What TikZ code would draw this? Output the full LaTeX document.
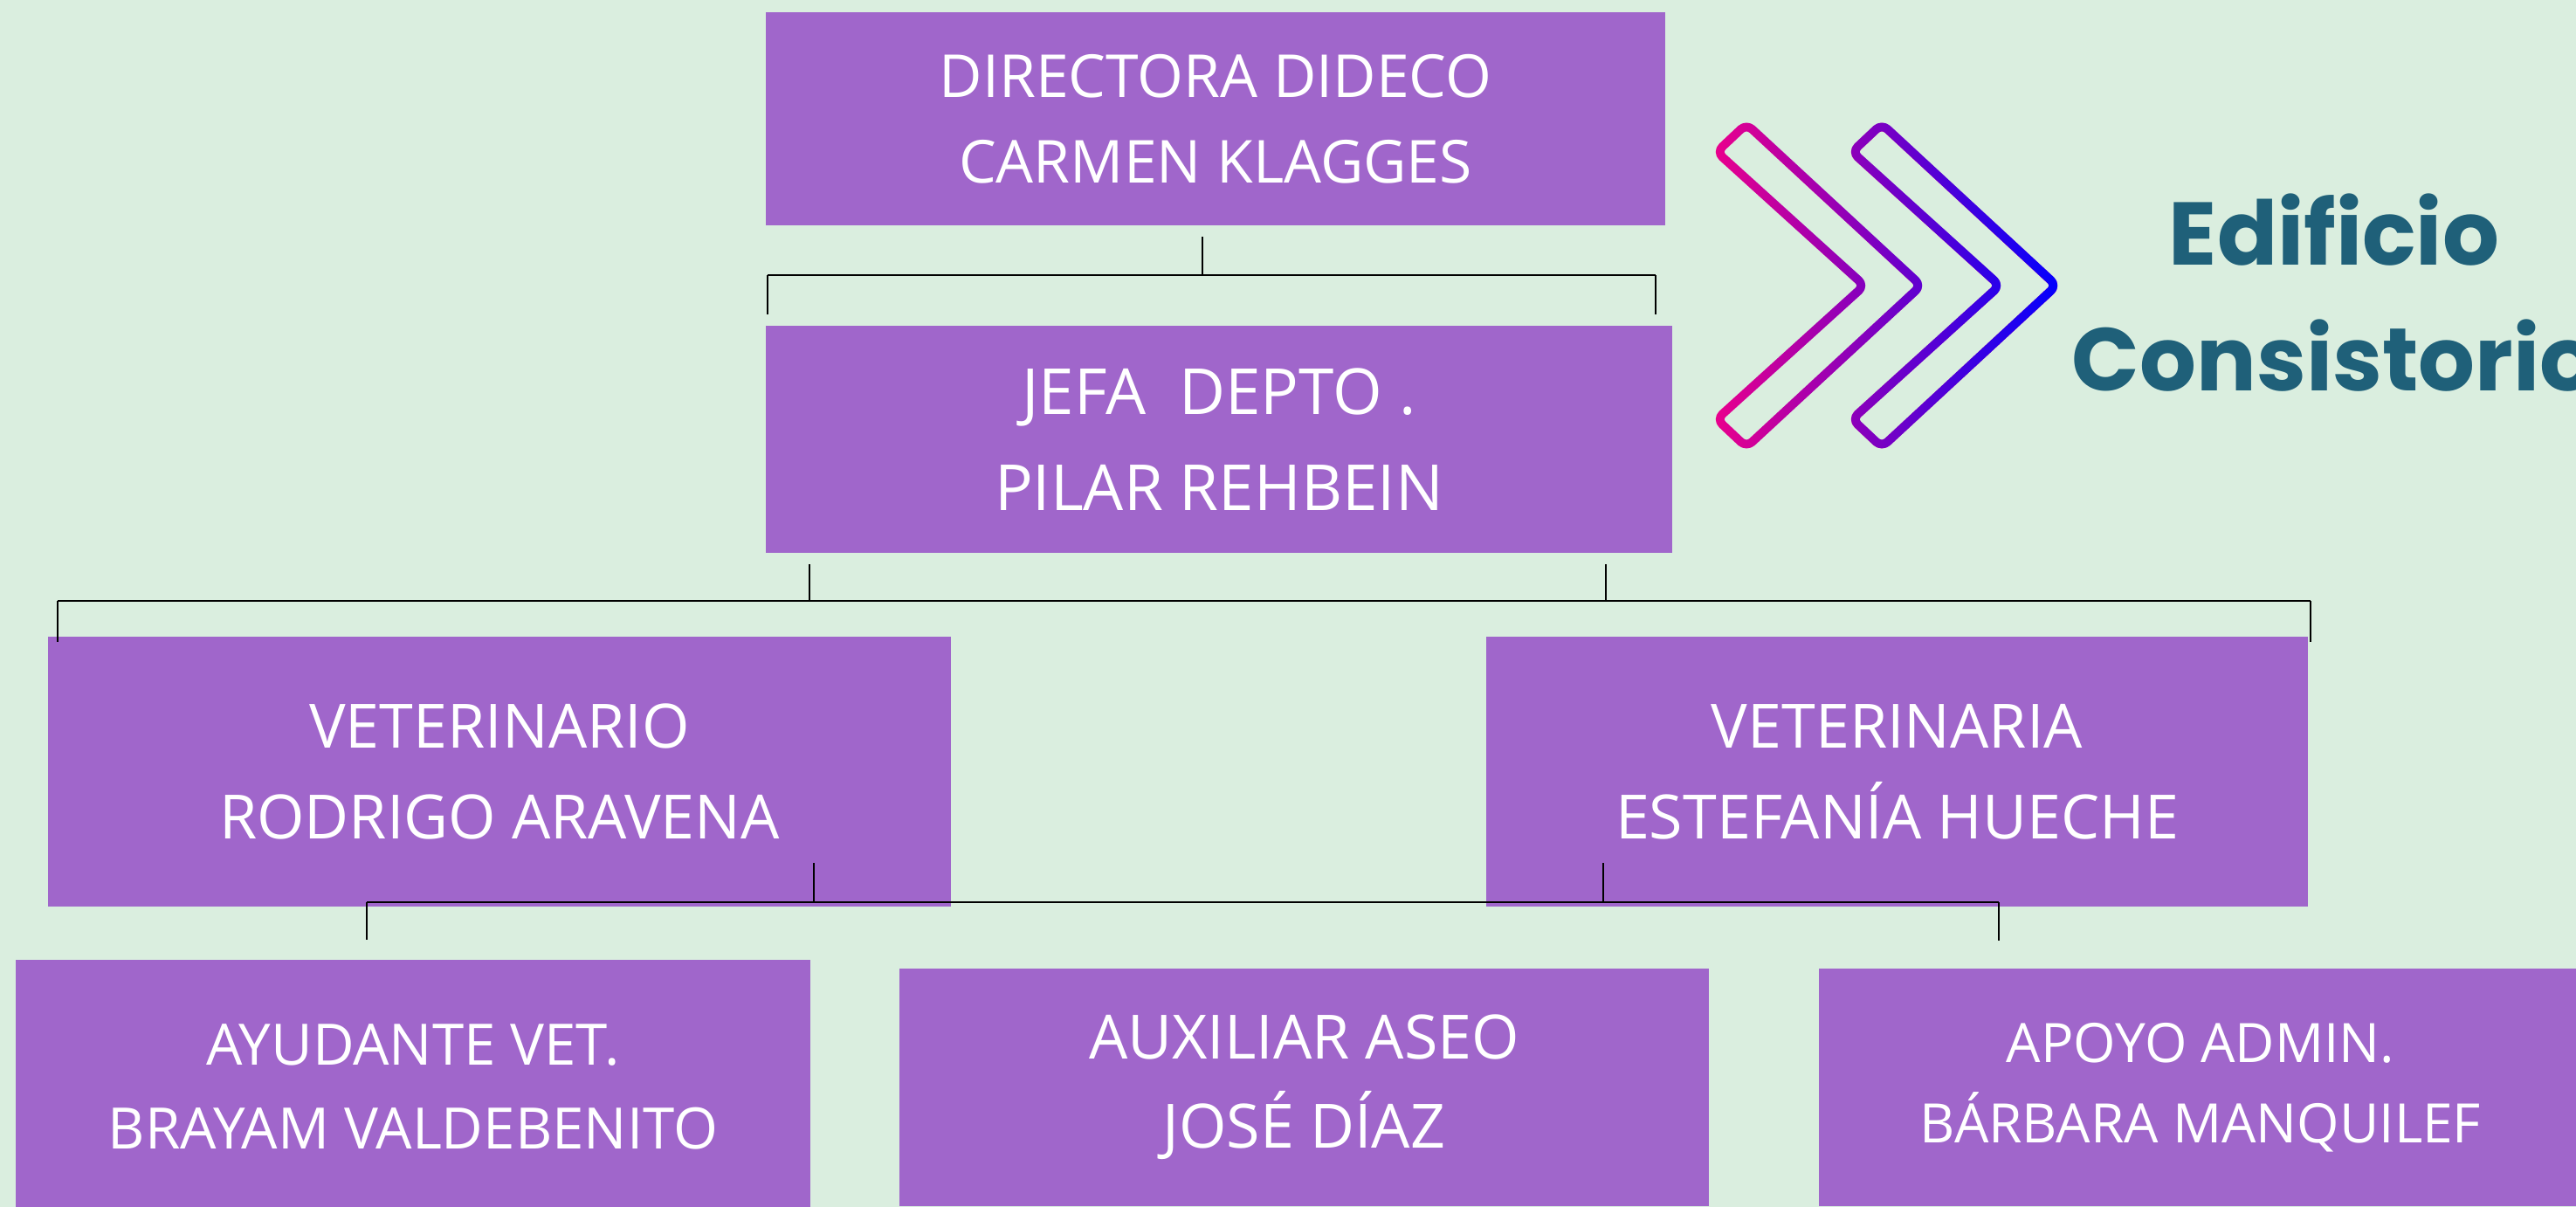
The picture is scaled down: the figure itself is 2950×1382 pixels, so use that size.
\documentclass[tikz,border=0pt]{standalone}
\usepackage{fontspec}
\setmainfont{Open Sans}
\newfontfamily\titlefont{Poppins}
\usetikzlibrary{fadings}
\definecolor{bgmint}{HTML}{DAEEDF}
\definecolor{boxpurple}{HTML}{A066CB}
\definecolor{titleteal}{HTML}{1F6079}
\begin{document}
\begin{tikzpicture}[x=0.01cm, y=-0.01cm,
    box/.style={rectangle, fill=boxpurple, text=white, inner sep=0pt, align=center, font=\fontsize{19.9}{29.5}\selectfont},
    link/.style={black, line width=0.55pt},
    bar/.style={black, line width=0.85pt},
    chevron/.style={line width=2.8pt, rounded corners=2.5pt, line join=round}
]
    % Background
    \path[use as bounding box, fill=bgmint] (0,0) rectangle (2950,1382);
    \clip (0,0) rectangle (2950,1382);

    % Top: directora and jefa
    \node[box, minimum width=10.30cm, minimum height=2.44cm, font=\fontsize{19.3}{28}\selectfont] (dir) at (1392,136) {DIRECTORA DIDECO\\CARMEN KLAGGES};
    \node[box, minimum width=10.38cm, minimum height=2.60cm, font=\fontsize{20.7}{31.2}\selectfont] (jefa) at (1396,503) {JEFA~ DEPTO .\\PILAR REHBEIN};

    % Middle: veterinarios
    \node[box, minimum width=10.34cm, minimum height=3.09cm] (vetrod) at (572,883.5) {VETERINARIO\\RODRIGO ARAVENA};
    \node[box, minimum width=9.41cm, minimum height=3.09cm] (vetest) at (2172.5,883.5) {VETERINARIA\\ESTEFANÍA HUECHE};

    % Bottom: apoyo
    \node[box, minimum width=9.10cm, minimum height=2.91cm, font=\fontsize{18.6}{27.2}\selectfont] (ayud) at (473,1244.5) {AYUDANTE VET.\\BRAYAM VALDEBENITO};
    \node[box, minimum width=9.27cm, minimum height=2.72cm, font=\fontsize{19.9}{29}\selectfont] (aux) at (1493.5,1245) {AUXILIAR ASEO\\JOSÉ DÍAZ};
    \node[box, minimum width=8.74cm, minimum height=2.72cm, font=\fontsize{17.7}{26.1}\selectfont] (apoyo) at (2520,1245) {APOYO ADMIN.\\BÁRBARA MANQUILEF};

    % Links directora -> jefa
    \coordinate (d0) at (1377,271);
    \coordinate (d1) at (1377,315);
    \coordinate (dl) at (879,315);
    \coordinate (dr) at (1896,315);
    \draw[link] (d0) -- (d1);
    \draw[bar] (dl) -- (dr);
    \draw[link] (dl) -- ++(0,45);
    \draw[link] (dr) -- ++(0,45);

    % Links jefa -> veterinarios
    \coordinate (j0) at (927,646);
    \coordinate (j1) at (1839,646);
    \coordinate (jl) at (66,688);
    \coordinate (jr) at (2646,688);
    \draw[link] (j0) -- ++(0,42);
    \draw[link] (j1) -- ++(0,42);
    \draw[bar] (jl) -- (jr);
    \draw[link] (jl) -- ++(0,47);
    \draw[link] (jr) -- ++(0,47);

    % Links veterinarios -> apoyo
    \coordinate (v0) at (932,988);
    \coordinate (v1) at (1836,988);
    \coordinate (vl) at (420,1033);
    \coordinate (vr) at (2289,1033);
    \draw[link] (v0) -- ++(0,45);
    \draw[link] (v1) -- ++(0,45);
    \draw[bar] (vl) -- (vr);
    \draw[link] (vl) -- ++(0,43);
    \draw[link] (vr) -- ++(0,44);

    % Chevrons
    \draw[chevron, magenta] (2000,142) -- (2200,327) -- (2000,512) -- (1966,480) -- (2135,327) -- (1966,174) -- cycle
        (2155,142) -- (2355,327) -- (2155,512) -- (2121,480) -- (2290,327) -- (2121,174) -- cycle;
    \draw[chevron, blue, path fading=west] (2000,142) -- (2200,327) -- (2000,512) -- (1966,480) -- (2135,327) -- (1966,174) -- cycle
        (2155,142) -- (2355,327) -- (2155,512) -- (2121,480) -- (2290,327) -- (2121,174) -- cycle;

    % Title
    \node[font=\titlefont\bfseries\fontsize{29}{40.7}\selectfont, text=titleteal, align=center, inner sep=0pt] (title) at (2673,335) {Edificio\\Consistorio};
\end{tikzpicture}
\end{document}
